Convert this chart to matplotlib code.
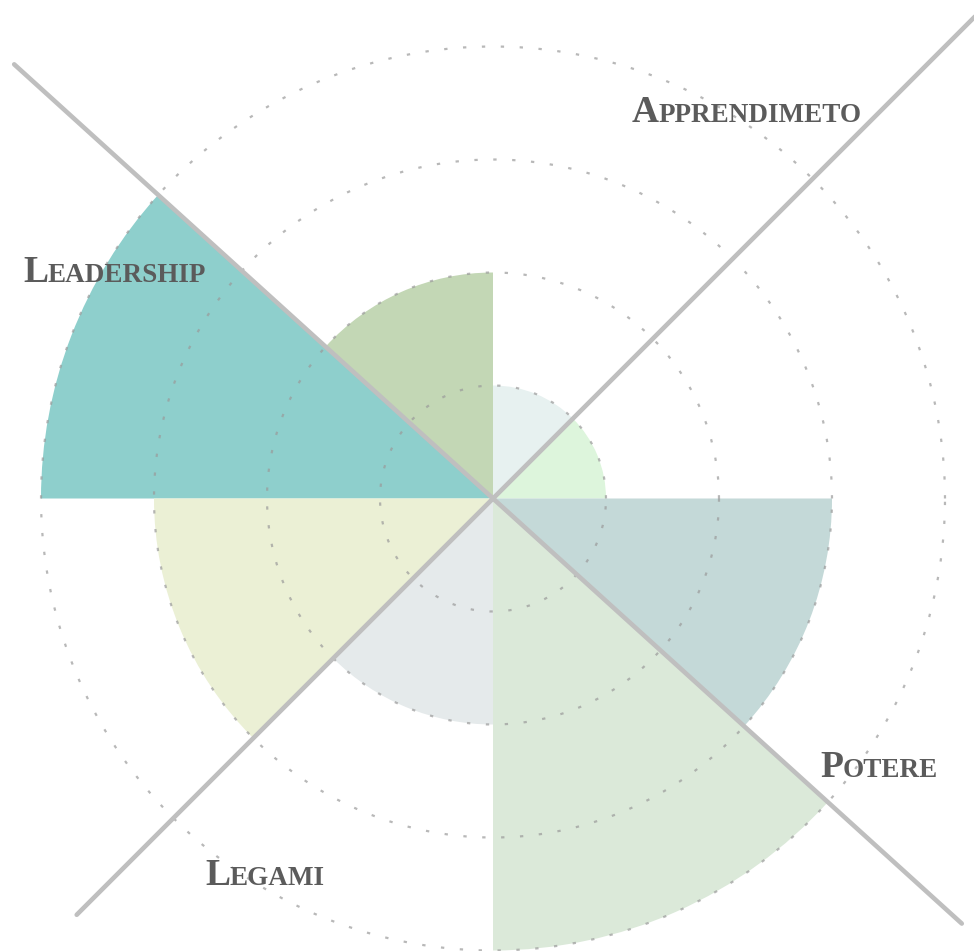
import numpy as np
import matplotlib
matplotlib.use("Agg")
from matplotlib import pyplot as plt

# sector data: start angle (deg), end angle (deg), radius (grid units), colour
starts = [0, 45, 90, 137.8, 180, 225, 270, 317.8]
ends = [45, 90, 137.8, 180, 225, 270, 317.8, 360]
values = [1, 1, 2, 4, 3, 2, 4, 3]
colors = ["#ddf5dc", "#e7f1f0", "#c3d7b5", "#8ecfcc",
          "#ebf0d5", "#e5eaeb", "#dbe9d9", "#c4d9d8"]

# dotted reference circles
rings = [1, 2, 3, 4]

# separator lines: angle (deg) and length (grid units)
line_angles = [45, 137.8, 225, 317.8]
line_lengths = [6.2, 5.72, 5.21, 5.60]

# quadrant labels: text, x px, baseline y px (from top)
labels = ["Apprendimeto", "Leadership", "Legami", "Potere"]
label_x = [632, 23, 205, 820]
label_y = [122, 282, 885, 777]

W, H = 974, 951
fig = plt.figure(figsize=(W / 100, H / 100), dpi=100)

cx, cy = 493, H - 498.5   # centre in pixels
R = 700                   # axes half-size in pixels
unit = 113                # pixels per grid unit

ax = fig.add_axes([(cx - R) / W, (cy - R) / H, 2 * R / W, 2 * R / H],
                  projection="polar")
ax.set_ylim(0, R / unit)
ax.axis("off")

theta0 = np.radians(starts)
widths = np.radians(np.array(ends) - np.array(starts))
ax.bar(theta0, values, width=widths, bottom=0, align="edge",
       color=colors, edgecolor="none", zorder=1)

t = np.linspace(0, 2 * np.pi, 500)
for r in rings:
    ax.plot(t, np.full_like(t, r), color="#9a9a9a", alpha=0.7,
            lw=1.6, linestyle=(0, (1.5, 7.0)), zorder=2)

for a, L in zip(line_angles, line_lengths):
    ax.plot([np.radians(a), np.radians(a)], [0, L], color="#bfbfbf",
            lw=3.3, solid_capstyle="round", zorder=3, clip_on=False)

# small-caps labels: big first letter, smaller rest
renderer = fig.canvas.get_renderer()
font = dict(family="Liberation Serif", weight="bold", color="#5b5b5b")
for txt, x, y in zip(labels, label_x, label_y):
    first = fig.text(x / W, 1 - y / H, txt[0].upper(), fontsize=27,
                     va="baseline", ha="left", **font)
    x1 = first.get_window_extent(renderer).x1
    fig.text(x1 / W, 1 - y / H, txt[1:].upper(), fontsize=19.5,
             va="baseline", ha="left", **font)

fig.savefig("out.png", dpi=100)
